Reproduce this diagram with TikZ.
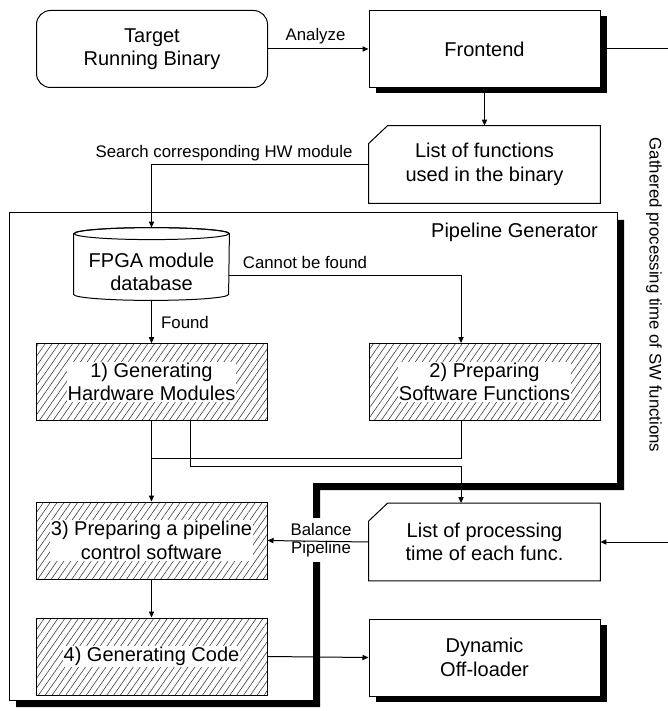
\documentclass[tikz,border=0pt]{standalone}
\usepackage{fontspec}
\setmainfont{Liberation Sans}
\usetikzlibrary{shadows,patterns.meta,arrows.meta}

% outline of a card with a cut corner, round an empty node
\newcommand{\cardframe}[1]{\draw[ln] ([yshift=-9pt]#1.north west) -- ([xshift=9.5pt]#1.north west) -- (#1.north east) -- (#1.south east) -- (#1.south west) -- cycle;}
% outline of a drum, round an empty node
\newcommand{\drumframe}[1]{%
	\draw[ln, fill=white] ([yshift=-3pt]#1.north west) -- ([yshift=3pt]#1.south west) arc[start angle=180, end angle=360, x radius=38.75pt, y radius=3pt] -- ([yshift=-3pt]#1.north east) arc[start angle=0, end angle=180, x radius=38.75pt, y radius=3pt] -- cycle;
	\draw[ln] ([yshift=-3pt]#1.north) ellipse[x radius=38.75pt, y radius=3pt];}

\begin{document}
\begin{tikzpicture}[x=0.5pt,y=-0.5pt,
	every node/.style={font=\fontsize{10}{11.7}\selectfont, align=center},
	tag/.style={font=\fontsize{8.4}{9.3}\selectfont, inner sep=1pt},
	blk/.style={draw=black, line width=0.5pt, minimum width=115.5pt, minimum height=38.5pt, fill=white},
	shd/.style={blk, drop shadow={fill=black, opacity=1, shadow xshift=3.25pt, shadow yshift=-3pt}},
	lst/.style={minimum width=115.5pt, minimum height=38.5pt},
	hatch/.style={draw=black, line width=0.5pt, minimum width=115.5pt, minimum height=38.5pt, pattern={Lines[angle=55,distance=2.8pt,line width=0.3pt]}, pattern color=black!75},
	txtbg/.style={fill=white, inner sep=0.5pt},
	ln/.style={line width=0.5pt},
	arr/.style={ln, -{Triangle[length=3pt,width=2.6pt]}}]
	\useasboundingbox (0,0) rectangle (668,711);

	% pipeline generator frame
	\fill[black, shift={(7,7)}] (9,213) -- (617,213) -- (617,483) -- (313,483) -- (313,700) -- (9,700) -- cycle;
	\draw[ln, fill=white] (9,213) -- (617,213) -- (617,483) -- (313,483) -- (313,700) -- (9,700) -- cycle;
	\node[anchor=east] (pg) at (605,232) {Pipeline Generator};

	\node[blk, shape=rectangle, rounded corners=7pt] (tgt) at (152,49) {Target\\Running Binary};
	\node[shd] (fe) at (484.5,49) {Frontend};
	\node[lst] (fnl) at (484.5,164.5) {List of functions\\used in the binary};
	\cardframe{fnl}
	\node[minimum width=77.5pt, minimum height=36pt] (db) at (151.5,264) {};
	\drumframe{db}
	\node (dbt) at ([yshift=-4pt]db.center) {FPGA module\\database};

	\node[hatch] (hw) at (151.5,382) {};
	\node[txtbg] (hwt) at (hw) {1) Generating\\Hardware Modules};
	\node[hatch] (sw) at (484.5,382) {};
	\node[txtbg] (swt) at (sw) {2) Preparing\\Software Functions};
	\node[hatch] (ctl) at (151.5,540.5) {};
	\node[txtbg] (ctlt) at (ctl) {3) Preparing a pipeline\\control software};
	\node[hatch] (gen) at (151.5,656.5) {};
	\node[txtbg] (gent) at (gen) {4) Generating Code};

	\node[lst] (ptm) at (484.5,542) {List of processing\\time of each func.};
	\cardframe{ptm}
	\node[shd] (dol) at (484.5,657.5) {Dynamic\\Off-loader};

	% labels
	\node[tag] (anl) at (315.5,36) {Analyze};
	\node[tag] (srch) at (224,153) {Search corresponding HW module};
	\node[tag] (nf) at (305,262.5) {Cannot be found};
	\node[tag] (fnd) at (185,322) {Found};
	\node[tag, fill=white, inner sep=2.5pt] (bal) at (321,540) {Balance\\Pipeline};
	\node[tag, rotate=-90] (gat) at (654,295) {Gathered processing time of SW functions};

	% helper points
	\coordinate (dbout) at ([yshift=-5.5pt]db.east);
	\coordinate (swin) at ([xshift=-11.75pt]sw.north);
	\coordinate (swout) at ([xshift=-11.75pt]sw.south);
	\coordinate (hwout) at ([xshift=19.25pt]hw.south);
	\coordinate (ptin) at ([xshift=-11.75pt]ptm.north);
	\coordinate (mrg) at (151.5,458);
	\coordinate (rt) at (669,49);

	\draw[arr] (tgt.east) -- (fe.west);
	\draw[arr] (fe.south) -- (fnl.north);
	\draw[arr] (fnl.west) -| (db.north);
	\draw[arr] (db.south) -- (hw.north);
	\draw[arr] (dbout) -| (swin);
	\draw[arr] (hw.south) -- (ctl.north);
	\draw[ln] (swout) |- (mrg);
	\draw[arr] (hwout) -- ++(0,46) -| (ptin);
	\draw[arr] (ctl.south) -- (gen.north);
	\draw[arr] (ptm.west) -- (ctl.east);
	\draw[arr] (gen.east) -- (dol.west);
	\draw[arr] (fe.east) -- (rt) |- (ptm.east);

\end{tikzpicture}
\end{document}
